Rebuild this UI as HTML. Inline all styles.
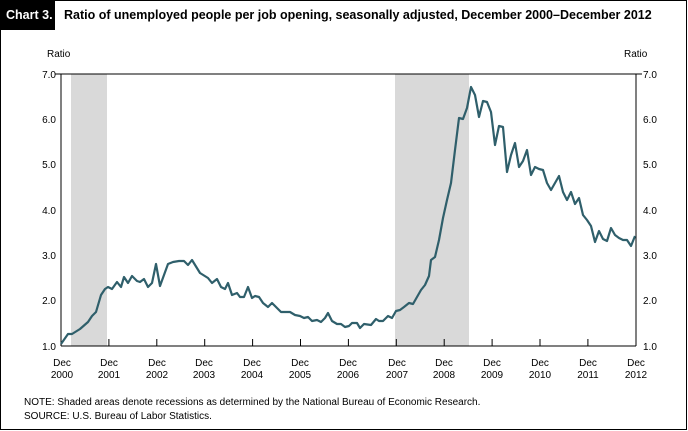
<!DOCTYPE html>
<html><head><meta charset="utf-8"><style>
body{margin:0;background:#fff;}
svg{display:block;font-family:"Liberation Sans",sans-serif;}
</style></head><body>
<svg width="688" height="431" viewBox="0 0 688 431" xmlns="http://www.w3.org/2000/svg">
<rect x="0.5" y="0.5" width="686" height="429" fill="#fff" stroke="#000" stroke-width="1"/>
<rect x="0" y="0" width="55" height="30" fill="#000"/>
<text x="6" y="19" fill="#fff" font-size="12.5" font-weight="bold">Chart 3.</text>
<text x="64" y="19" fill="#000" font-size="12.5" font-weight="bold">Ratio of unemployed people per job opening, seasonally adjusted, December 2000–December 2012</text>
<rect x="71" y="74" width="36" height="272" fill="#d9d9d9"/>
<rect x="395" y="74" width="74" height="272" fill="#d9d9d9"/>
<text x="47" y="57" font-size="10">Ratio</text>
<text x="624" y="57" font-size="10">Ratio</text>
<g font-size="10" text-anchor="end">
<text x="56" y="78">7.0</text><text x="56" y="123">6.0</text><text x="56" y="168">5.0</text><text x="56" y="214">4.0</text><text x="56" y="259">3.0</text><text x="56" y="304">2.0</text><text x="56" y="350">1.0</text>
</g>
<g font-size="10">
<text x="643" y="78">7.0</text><text x="643" y="123">6.0</text><text x="643" y="168">5.0</text><text x="643" y="214">4.0</text><text x="643" y="259">3.0</text><text x="643" y="304">2.0</text><text x="643" y="350">1.0</text>
</g>
<g stroke="#000" stroke-width="1">
<line x1="55" y1="74" x2="61" y2="74"/><line x1="636" y1="74" x2="642" y2="74"/>
<line x1="61" y1="74" x2="61" y2="346"/><line x1="636" y1="74" x2="636" y2="346"/>
<line x1="61" y1="74" x2="636" y2="74"/>
<line x1="61" y1="346" x2="636" y2="346"/>
</g>
<g stroke="#000" stroke-width="1">
<line x1="108.9" y1="339" x2="108.9" y2="346"/><line x1="156.8" y1="339" x2="156.8" y2="346"/><line x1="204.7" y1="339" x2="204.7" y2="346"/><line x1="252.6" y1="339" x2="252.6" y2="346"/><line x1="300.5" y1="339" x2="300.5" y2="346"/><line x1="348.4" y1="339" x2="348.4" y2="346"/><line x1="396.3" y1="339" x2="396.3" y2="346"/><line x1="444.2" y1="339" x2="444.2" y2="346"/><line x1="492.1" y1="339" x2="492.1" y2="346"/><line x1="540" y1="339" x2="540" y2="346"/><line x1="587.9" y1="339" x2="587.9" y2="346"/>
</g>
<g font-size="10" text-anchor="middle">
<text x="62" y="366">Dec</text><text x="62" y="378">2000</text>
<text x="109" y="366">Dec</text><text x="109" y="378">2001</text>
<text x="157" y="366">Dec</text><text x="157" y="378">2002</text>
<text x="204" y="366">Dec</text><text x="204" y="378">2003</text>
<text x="252" y="366">Dec</text><text x="252" y="378">2004</text>
<text x="300" y="366">Dec</text><text x="300" y="378">2005</text>
<text x="348" y="366">Dec</text><text x="348" y="378">2006</text>
<text x="397" y="366">Dec</text><text x="397" y="378">2007</text>
<text x="444" y="366">Dec</text><text x="444" y="378">2008</text>
<text x="492" y="366">Dec</text><text x="492" y="378">2009</text>
<text x="540" y="366">Dec</text><text x="540" y="378">2010</text>
<text x="588" y="366">Dec</text><text x="588" y="378">2011</text>
<text x="636" y="366">Dec</text><text x="636" y="378">2012</text>
</g>
<polyline fill="none" stroke="#2f5f6b" stroke-width="2.2" stroke-linejoin="round" points="61,344 68,334 72,334 80,329 88,322 92,316 96,312 101,295 105,289 108,287 112,289 117,282 121,287 124,277 128,283 132,276 137,281 140,282 144,279 148,287 152,283 156,264 160,286 168,264 173,262 179,261 184,261 188,265 192,260 200,273 208,278 212,283 217,279 221,287 225,289 228,283 232,295 237,293 240,297 244,297 248,287 252,298 255,296 259,297 263,303 268,307 272,303 277,308 281,312 290,312 295,315 300,316 304,318 308,317 312,321 317,320 321,322 325,318 328,313 332,321 337,324 341,324 345,327 349,326 352,323 357,323 360,328 364,324 371,325 376,319 379,321 383,321 388,316 392,318 396,311 400,310 404,307 409,303 413,304 417,297 421,290 425,285 429,276 431,260 435,257 439,240 443,218 447,200 451,183 455,150 459,118 463,119 467,108 471,87 475,95 479,117 483,101 487,102 491,112 495,145 499,126 503,127 507,172 511,155 515,143 519,167 523,161 527,150 531,175 535,167 539,169 543,170 547,183 551,190 555,183 559,176 563,192 567,200 571,192 575,204 579,198 583,215 587,220 591,226 595,242 599,231 603,239 607,241 611,228 615,235 619,238 623,240 627,240 631,246 635,236"/>
<text x="24" y="405" font-size="10">NOTE:  Shaded areas denote recessions as determined by the National Bureau of Economic Research.</text>
<text x="24" y="419" font-size="10">SOURCE:  U.S. Bureau of Labor Statistics.</text>
</svg>
</body></html>
